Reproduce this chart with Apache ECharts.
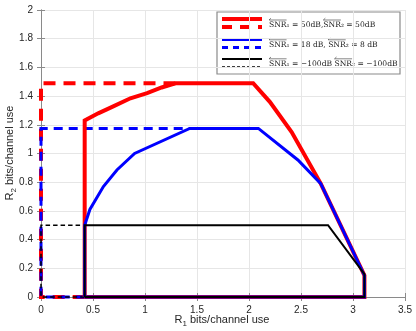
<!DOCTYPE html>
<html>
<head>
<meta charset="utf-8">
<script src="https://cdn.jsdelivr.net/npm/echarts@6/dist/echarts.min.js"></script>
<style>
html, body { margin: 0; padding: 0; background: #fff; }
#chart { width: 416px; height: 331px; }
</style>
</head>
<body>
<div id="chart"></div>
<script>
var xTicks = [0, 0.5, 1, 1.5, 2, 2.5, 3, 3.5];
var yTicks = [0, 0.2, 0.4, 0.6, 0.8, 1, 1.2, 1.4, 1.6, 1.8, 2];

// achievable regions (solid)
var red50 = [[0.42, 0], [0.42, 1.23], [0.55, 1.28], [0.70, 1.33], [0.86, 1.385], [1.02, 1.42], [1.16, 1.46], [1.30, 1.49],
  [2.04, 1.49], [2.20, 1.36], [2.41, 1.15], [2.69, 0.79], [3.11, 0.15], [3.11, 0], [0.42, 0]];
var blue18 = [[0.42, 0], [0.42, 0.5], [0.47, 0.61], [0.60, 0.77], [0.73, 0.885], [0.90, 1.0], [1.43, 1.175],
  [2.09, 1.175], [2.47, 0.955], [2.69, 0.79], [3.11, 0.15], [3.11, 0], [0.42, 0]];
var black100 = [[0.42, 0], [0.42, 0.5], [2.76, 0.5], [3.11, 0.16], [3.11, 0], [0.42, 0]];

// outer bounds (dashed)
var red50d = [[0.42, 0], [0, 0], [0, 1.49], [1.30, 1.49]];
var blue18d = [[0.42, 0], [0, 0], [0, 1.175], [1.43, 1.175]];
var black100d = [[0.42, 0], [0, 0], [0, 0.5], [0.42, 0.5]];

// legend text pieces: every "SNR" gets a left arrow over it
var legendParts = [
  ['SNR\u2081 = 50dB,', 'SNR\u2082 = 50dB'],
  ['SNR\u2081 = 18 dB, ', 'SNR\u2082 = 8 dB'],
  ['SNR\u2081 = \u2212100dB ', 'SNR\u2082 = \u2212100dB']
];
var legendColor = ['#ff0000', '#0000ff', '#000000'];
var legendWidth = [4, 3, 2];
var legendDash = [[10, 8], [6, 5], [3, 2]];
var legendDashWidth = [4, 3, 1.3];

var chart = echarts.init(document.getElementById('chart'));

function line(data, color, width, dashed) {
  return {
    type: 'line',
    data: data,
    showSymbol: false,
    symbol: 'none',
    clip: false,
    animation: false,
    lineStyle: {
      color: color,
      width: width,
      type: dashed ? [width * 3, width * 2] : 'solid',
      join: 'miter'
    }
  };
}

var axisCommon = {
  min: 0,
  axisLine: { show: true, lineStyle: { color: '#8a8a8a', width: 1 } },
  axisTick: { show: true, inside: true, length: 4, lineStyle: { color: '#8a8a8a' } },
  splitLine: { show: true, lineStyle: { color: '#e6e6e6', width: 1 } },
  axisLabel: { color: '#262626', fontSize: 10, fontFamily: 'Liberation Sans' }
};

var legendFont = '7.6px "DejaVu Serif"';
var measureCtx = document.createElement('canvas').getContext('2d');
measureCtx.font = legendFont;
var snrWidth = measureCtx.measureText('SNR').width;

var nameRich = {
  r: { fontSize: 11, fontFamily: 'Liberation Sans', fill: '#262626' },
  s: { fontSize: 8, fontFamily: 'Liberation Sans', fill: '#262626', padding: [7, 0, 0, 0] }
};

var items = [];
// axis titles
items.push({
  type: 'text', x: 222, y: 320,
  style: { text: '{r|R}{s|1}{r| bits/channel use}', rich: nameRich, align: 'center', verticalAlign: 'middle' }
});
items.push({
  type: 'text', x: 10, y: 153, rotation: Math.PI / 2,
  style: { text: '{r|R}{s|2}{r| bits/channel use}', rich: nameRich, align: 'center', verticalAlign: 'middle' }
});
// legend
items.push({
  type: 'rect',
  shape: { x: 217, y: 12, width: 183, height: 62 },
  style: { fill: '#fff', stroke: '#8a8a8a', lineWidth: 1.2 }
});
var rowY = [19, 39.5, 59];
var textY = [25.5, 45.3, 64.3];
for (var i = 0; i < 3; i++) {
  items.push({
    type: 'line',
    shape: { x1: 222, y1: rowY[i], x2: 262, y2: rowY[i] },
    style: { stroke: legendColor[i], lineWidth: legendWidth[i] }
  });
  items.push({
    type: 'line',
    shape: { x1: 222, y1: rowY[i] + 8, x2: 262, y2: rowY[i] + 8 },
    style: { stroke: legendColor[i], lineWidth: legendDashWidth[i], lineDash: legendDash[i] }
  });
  var tx = 269;
  for (var j = 0; j < legendParts[i].length; j++) {
    var part = legendParts[i][j];
    var ay = textY[i] - 5.5;
    items.push({
      type: 'text', x: tx, y: textY[i],
      style: { text: part, fill: '#222', font: legendFont, verticalAlign: 'middle' }
    });
    items.push({
      type: 'polyline',
      shape: { points: [[tx + 2, ay - 1.8], [tx, ay], [tx + snrWidth, ay]] },
      style: { stroke: '#333', lineWidth: 0.6, fill: null }
    });
    tx += measureCtx.measureText(part).width;
  }
}

var option = {
  animation: false,
  backgroundColor: '#fff',
  grid: { left: 41, right: 11, top: 10, bottom: 34, containLabel: false, outerBoundsMode: 'none' },
  xAxis: [
    Object.assign({}, axisCommon, { type: 'value', max: 3.5, interval: 0.5 }),
    Object.assign({}, axisCommon, {
      type: 'value', max: 3.5, interval: 0.5, position: 'top',
      axisLabel: { show: false }, splitLine: { show: false }
    })
  ],
  yAxis: [
    Object.assign({}, axisCommon, { type: 'value', max: 2, interval: 0.2 }),
    Object.assign({}, axisCommon, {
      type: 'value', max: 2, interval: 0.2, position: 'right',
      axisLabel: { show: false }, splitLine: { show: false }
    })
  ],
  series: [
    line(red50d, '#ff0000', 4, true),
    line(blue18d, '#0000ff', 3, true),
    line(black100d, '#000000', 1.5, true),
    line(red50, '#ff0000', 4, false),
    line(blue18, '#0000ff', 3, false),
    line(black100, '#000000', 2, false)
  ],
  graphic: items
};

chart.setOption(option, true);
</script>
</body>
</html>
